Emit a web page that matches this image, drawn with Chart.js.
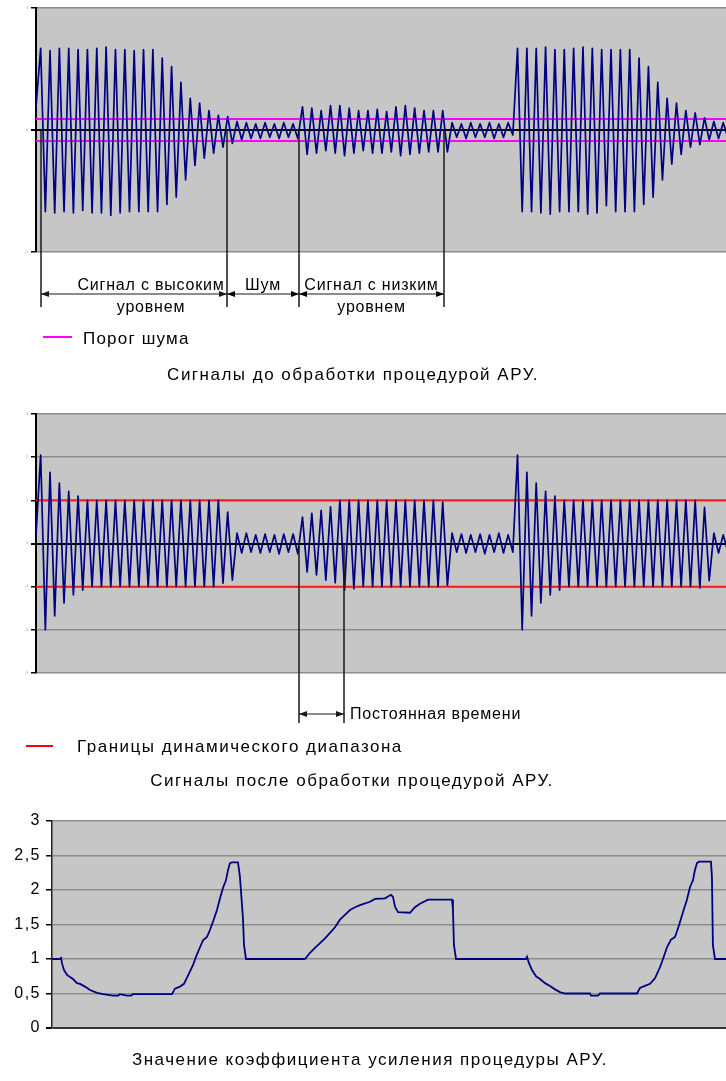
<!DOCTYPE html>
<html lang="ru">
<head>
<meta charset="utf-8">
<title>АРУ</title>
<script src="https://cdn.jsdelivr.net/npm/chart.js@4.4.1/dist/chart.umd.min.js"></script>
<style>
  html, body { margin: 0; padding: 0; background: #fff; overflow: hidden; }
  #wrap { position: relative; width: 726px; height: 1081px; }
  canvas { position: absolute; left: 0; }
</style>
</head>
<body>
<div id="wrap">
  <canvas id="before" width="726" height="395" style="top:0"></canvas>
  <canvas id="after" width="726" height="410" style="top:395px"></canvas>
  <canvas id="gain" width="726" height="276" style="top:805px"></canvas>
</div>
<script>
/* --------------- Данные --------------------- */
// шаг отсчёта (полупериод несущей) по оси времени
const STEP = 4.675;
const T_MAX = 690;

// сигнал до АРУ: экстремумы каждого полупериода
const rawSignal = [
  0.19,
  // сигнал с высоким уровнем
  0.67, -0.67, 0.65, -0.68, 0.67, -0.67, 0.67, -0.68, 0.66, -0.66, 0.66, -0.68, 0.67, -0.68,
  0.68, -0.70, 0.66, -0.68, 0.66, -0.67, 0.65, -0.67, 0.66, -0.67, 0.66, -0.67,
  0.59, -0.61, 0.52, -0.55, 0.39, -0.41, 0.26, -0.29, 0.22, -0.23, 0.16, -0.19,
  0.12, -0.14, 0.11, -0.11, 0.07, -0.08, 0.06, -0.07,
  // шум
  0.05, -0.07, 0.06, -0.06, 0.05, -0.07, 0.06, -0.06, 0.05, -0.07,
  // сигнал с низким уровнем
  0.19, -0.20, 0.18, -0.19, 0.16, -0.17, 0.20, -0.19, 0.20, -0.21, 0.18, -0.19, 0.16, -0.17,
  0.16, -0.19, 0.17, -0.19, 0.15, -0.18, 0.19, -0.21, 0.20, -0.20, 0.18, -0.19, 0.16, -0.18,
  0.16, -0.18, 0.16, -0.18,
  // шум
  0.06, -0.06, 0.05, -0.07, 0.06, -0.06, 0.05, -0.06, 0.06, -0.07, 0.05, -0.06, 0.06, -0.04,
  // снова высокий уровень
  0.67, -0.67, 0.67, -0.67, 0.67, -0.68, 0.68, -0.69, 0.66, -0.67, 0.66, -0.67, 0.67, -0.67,
  0.68, -0.69, 0.67, -0.68, 0.66, -0.62, 0.66, -0.67, 0.66, -0.67, 0.66, -0.67,
  0.59, -0.61, 0.52, -0.55, 0.39, -0.41, 0.26, -0.28, 0.22, -0.20, 0.16, -0.14,
  0.14, -0.12, 0.10, -0.08, 0.07, -0.07, 0.06, -0.06
];

// сигнал после АРУ
const agcSignal = [
  0.2,
  2.05, -2.0, 1.65, -1.68, 1.4, -1.38, 1.21, -1.19, 1.1, -1.08,
  1.0, -1.0, 1.0, -1.0, 1.0, -1.0, 1.0, -1.0, 1.0, -1.0, 1.0, -1.0, 1.0, -1.0, 1.0, -1.0,
  1.0, -1.0, 1.0, -1.0, 1.0, -1.0, 1.0, -1.0, 1.0, -1.0, 1.0, -1.0,
  1.0, -0.92, 0.73, -0.85,
  0.24, -0.22, 0.24, -0.2, 0.2, -0.22, 0.22, -0.2, 0.2, -0.24, 0.22, -0.2, 0.22, -0.24,
  0.61, -0.66, 0.70, -0.73, 0.77, -0.85, 0.85, -0.91, 1.0, -1.08, 1.0, -1.05,
  1.0, -1.0, 1.0, -1.0, 1.0, -1.0, 1.0, -1.0, 1.0, -1.0, 1.0, -1.0, 1.0, -1.0, 1.0, -1.0, 1.0, -1.0,
  0.96, -0.97,
  0.24, -0.2, 0.22, -0.22, 0.2, -0.2, 0.22, -0.24, 0.2, -0.2, 0.24, -0.22, 0.2, -0.2,
  2.05, -2.0, 1.65, -1.68, 1.4, -1.38, 1.21, -1.19, 1.1, -1.08,
  1.0, -1.0, 1.0, -1.0, 1.0, -1.0, 1.0, -1.0, 1.0, -1.0, 1.0, -1.0, 1.0, -1.0, 1.0, -1.0,
  1.0, -1.0, 1.0, -1.0, 1.0, -1.0, 1.0, -1.0, 1.0, -1.0, 1.0, -1.0, 1.0, -1.03,
  0.84, -0.86, 0.24, -0.22, 0.2, -0.2
];

const noiseThreshold = 0.09;
const dynRange = 1;

// коэффициент усиления АРУ
const gainTime = [
  0, 8.2, 9.2, 10.2, 12.3, 15.4, 18.4, 21.5, 25.6, 28.7, 33.8, 38.9, 46.1, 52.2, 62.4, 67.6,
  69.6, 76.8, 80.9, 82.9, 122.8, 125.9, 131, 135.1, 139.2, 144.3, 147.4, 151.5, 154.6, 158.7,
  161.7, 164.8, 168.9, 172, 175, 178.1, 180.2, 182.2, 184.3, 190.4, 192.4, 195.5, 196.6, 198.6,
  259, 264.1, 269.2, 274.4, 279.5, 284.6, 289.7, 294.8, 299.9, 305.1, 310.2, 315.3, 325.5,
  330.7, 340.9, 347, 349.1, 351.1, 354.2, 366.5, 371.6, 376.7, 384.9, 409.5, 410.5, 411.5,
  413.6, 485.2, 486.3, 488.3, 491.4, 495.5, 499.6, 504.7, 509.8, 514.9, 520, 525.2, 550.8,
  551.8, 559, 561, 598.9, 601.9, 607, 612.2, 617.3, 622.4, 625.5, 629.6, 633.7, 637.8, 641.9,
  646, 650, 653.1, 656.2, 658.2, 660.3, 662.3, 674.6, 675.6, 676.6, 678.7, 690
];
const gainValue = [
  1.0, 1.0, 1.03, 0.94, 0.84, 0.77, 0.74, 0.71, 0.65, 0.64, 0.60, 0.55, 0.51, 0.49, 0.47, 0.47,
  0.49, 0.47, 0.47, 0.49, 0.49, 0.57, 0.60, 0.64, 0.76, 0.91, 1.03, 1.17, 1.27, 1.32,
  1.42, 1.54, 1.71, 1.88, 2.03, 2.14, 2.29, 2.39, 2.40, 2.40, 2.19, 1.59, 1.20, 1.00,
  1.00, 1.09, 1.16, 1.23, 1.30, 1.38, 1.46, 1.57, 1.64, 1.71, 1.75, 1.78, 1.83,
  1.87, 1.88, 1.93, 1.90, 1.76, 1.68, 1.67, 1.75, 1.80, 1.86, 1.86, 1.71, 1.20,
  1.00, 1.00, 1.03, 0.94, 0.84, 0.75, 0.71, 0.65, 0.61, 0.56, 0.52, 0.50, 0.50,
  0.47, 0.47, 0.50, 0.50, 0.58, 0.61, 0.64, 0.72, 0.88, 1.00, 1.17, 1.28, 1.32, 1.49,
  1.68, 1.86, 2.04, 2.14, 2.29, 2.39, 2.41, 2.41, 2.19, 1.20, 1.00, 1.00
];
const gainTicks = ["0", "0,5", "1", "1,5", "2", "2,5", "3"];

// разметка участков (время)
const segBounds = [5, 191, 263, 408];
const segLabels = [["Сигнал с высоким", "уровнем"], ["Шум"], ["Сигнал с низким", "уровнем"]];
const tauBounds = [263, 308];

/* --------------- Помощники --------------------- */
const FONT = "'Liberation Sans', Arial, sans-serif";
Chart.defaults.font.family = FONT;

const toPoints = (arr) => arr.map((v, i) => ({ x: i * STEP, y: v }));
const flat = (v) => [{ x: 0, y: v }, { x: T_MAX, y: v }];

function text(ctx, str, x, y, align, size, spacing) {
  ctx.font = size + "px " + FONT;
  ctx.letterSpacing = spacing + "px";
  ctx.textAlign = align;
  ctx.textBaseline = "alphabetic";
  ctx.fillStyle = "#000";
  ctx.fillText(str, x, y);
  ctx.letterSpacing = "0px";
}

function arrow(ctx, x1, x2, y) {
  ctx.beginPath();
  ctx.moveTo(x1, y);
  ctx.lineTo(x2, y);
  ctx.stroke();
  [[x1, 1], [x2, -1]].forEach(([x, d]) => {
    ctx.beginPath();
    ctx.moveTo(x, y);
    ctx.lineTo(x + d * 8, y - 3);
    ctx.lineTo(x + d * 8, y + 3);
    ctx.closePath();
    ctx.fill();
  });
}

const plotBg = {
  id: "plotBg",
  beforeDraw(chart) {
    const { ctx, chartArea: a } = chart;
    ctx.save();
    ctx.fillStyle = "#c6c6c6";
    ctx.fillRect(a.left, a.top, a.right - a.left, a.bottom - a.top);
    ctx.restore();
  }
};

const signalLine = (data) => ({
  data, borderColor: "#000080", borderWidth: 1.7, pointRadius: 0,
  borderJoinStyle: "round", tension: 0
});
const levelLine = (data, color) => ({
  data, borderColor: color, borderWidth: 2, pointRadius: 0
});

const gridColor = (zero, other) => (c) => (c.tick.value === 0 ? zero : other);

function baseOptions(padding, y) {
  return {
    responsive: false,
    animation: false,
    events: [],
    layout: { padding },
    plugins: { legend: { display: false }, tooltip: { enabled: false } },
    scales: {
      x: { type: "linear", min: 0, max: T_MAX, display: false },
      y
    }
  };
}

const tinyAxis = (min, max, width) => ({
  min, max,
  ticks: { stepSize: 1, font: { size: 3 }, color: "#888", padding: 3 },
  grid: {
    color: gridColor("#000", "#8c8c8c"),
    lineWidth: (c) => (c.tick.value === 0 ? 2 : 1.5),
    tickColor: "#000", tickLength: 5
  },
  border: { color: "#000", width: 2 },
  afterFit(s) { s.width = width; }
});

/* --------------- Сигналы до АРУ --------------------- */
const beforeNotes = {
  id: "beforeNotes",
  afterDraw(chart) {
    const { ctx } = chart;
    const xs = chart.scales.x;
    const y0 = chart.scales.y.getPixelForValue(0);
    const px = segBounds.map((t) => xs.getPixelForValue(t));
    ctx.save();
    ctx.strokeStyle = "#1a1a1a";
    ctx.fillStyle = "#1a1a1a";
    ctx.lineWidth = 1.5;
    px.forEach((x) => {
      ctx.beginPath();
      ctx.moveTo(x, y0);
      ctx.lineTo(x, 307);
      ctx.stroke();
    });
    ctx.lineWidth = 1.2;
    segLabels.forEach((lines, i) => {
      arrow(ctx, px[i], px[i + 1], 294);
      const cx = (px[i] + px[i + 1]) / 2 + (i === 0 ? 17 : 0);
      text(ctx, lines[0], cx, 290, "center", 16, 0.8);
      if (lines[1]) text(ctx, lines[1], cx, 312, "center", 16, 0.8);
    });
    ctx.strokeStyle = "#ff00ff";
    ctx.lineWidth = 2;
    ctx.beginPath();
    ctx.moveTo(43, 337);
    ctx.lineTo(72, 337);
    ctx.stroke();
    text(ctx, "Порог шума", 83, 344, "left", 17, 1.2);
    text(ctx, "Сигналы до обработки процедурой АРУ.", 353, 380, "center", 17, 1.5);
    ctx.restore();
  }
};

new Chart(document.getElementById("before"), {
  type: "line",
  data: {
    datasets: [
      signalLine(toPoints(rawSignal)),
      levelLine(flat(noiseThreshold), "#ff00ff"),
      levelLine(flat(-noiseThreshold), "#ff00ff")
    ]
  },
  options: baseOptions({ top: 8, right: 0, bottom: 143, left: 0 }, tinyAxis(-1, 1, 36)),
  plugins: [plotBg, beforeNotes]
});

/* --------------- Сигналы после АРУ --------------------- */
const afterNotes = {
  id: "afterNotes",
  afterDraw(chart) {
    const { ctx } = chart;
    const xs = chart.scales.x;
    const y0 = chart.scales.y.getPixelForValue(0);
    const px = tauBounds.map((t) => xs.getPixelForValue(t));
    ctx.save();
    ctx.strokeStyle = "#1a1a1a";
    ctx.fillStyle = "#1a1a1a";
    ctx.lineWidth = 1.5;
    px.forEach((x) => {
      ctx.beginPath();
      ctx.moveTo(x, y0);
      ctx.lineTo(x, 328);
      ctx.stroke();
    });
    ctx.lineWidth = 1.2;
    arrow(ctx, px[0], px[1], 319);
    text(ctx, "Постоянная времени", px[1] + 6, 324, "left", 16, 0.8);
    ctx.strokeStyle = "#ff0000";
    ctx.lineWidth = 2;
    ctx.beginPath();
    ctx.moveTo(26, 351);
    ctx.lineTo(53, 351);
    ctx.stroke();
    text(ctx, "Границы динамического диапазона", 77, 357, "left", 17, 1.5);
    text(ctx, "Сигналы после обработки процедурой АРУ.", 352, 391, "center", 17, 1.5);
    ctx.restore();
  }
};

new Chart(document.getElementById("after"), {
  type: "line",
  data: {
    datasets: [
      signalLine(toPoints(agcSignal)),
      levelLine(flat(dynRange), "#ff1a1a"),
      levelLine(flat(-dynRange), "#ff1a1a")
    ]
  },
  options: baseOptions({ top: 19, right: 0, bottom: 132, left: 0 }, tinyAxis(-3, 3, 36)),
  plugins: [plotBg, afterNotes]
});

/* --------------- Коэффициент усиления --------------------- */
const gainNotes = {
  id: "gainNotes",
  beforeDraw(chart) { chart.ctx.letterSpacing = "1.5px"; },
  beforeDatasetsDraw(chart) { chart.ctx.letterSpacing = "0px"; },
  afterDraw(chart) {
    const { ctx } = chart;
    ctx.save();
    text(ctx, "Значение коэффициента усиления процедуры АРУ.", 370, 260, "center", 17, 1.5);
    ctx.restore();
  }
};

new Chart(document.getElementById("gain"), {
  type: "line",
  data: {
    datasets: [{
      data: gainTime.map((t, i) => ({ x: t, y: gainValue[i] })),
      borderColor: "#000080", borderWidth: 1.8, pointRadius: 0, tension: 0
    }]
  },
  options: baseOptions({ top: 16, right: 0, bottom: 53, left: 0 }, {
    min: 0, max: 3,
    ticks: {
      stepSize: 0.5, color: "#000", padding: 5, font: { size: 16 },
      callback: (v, i) => gainTicks[i]
    },
    grid: {
      color: gridColor("#333", "#8c8c8c"),
      lineWidth: (c) => (c.tick.value === 0 ? 2 : 1.5),
      tickColor: "#000", tickLength: 6
    },
    border: { color: "#222", width: 1.5 },
    afterFit(s) { s.width = 52; }
  }),
  plugins: [plotBg, gainNotes]
});
</script>
</body>
</html>
